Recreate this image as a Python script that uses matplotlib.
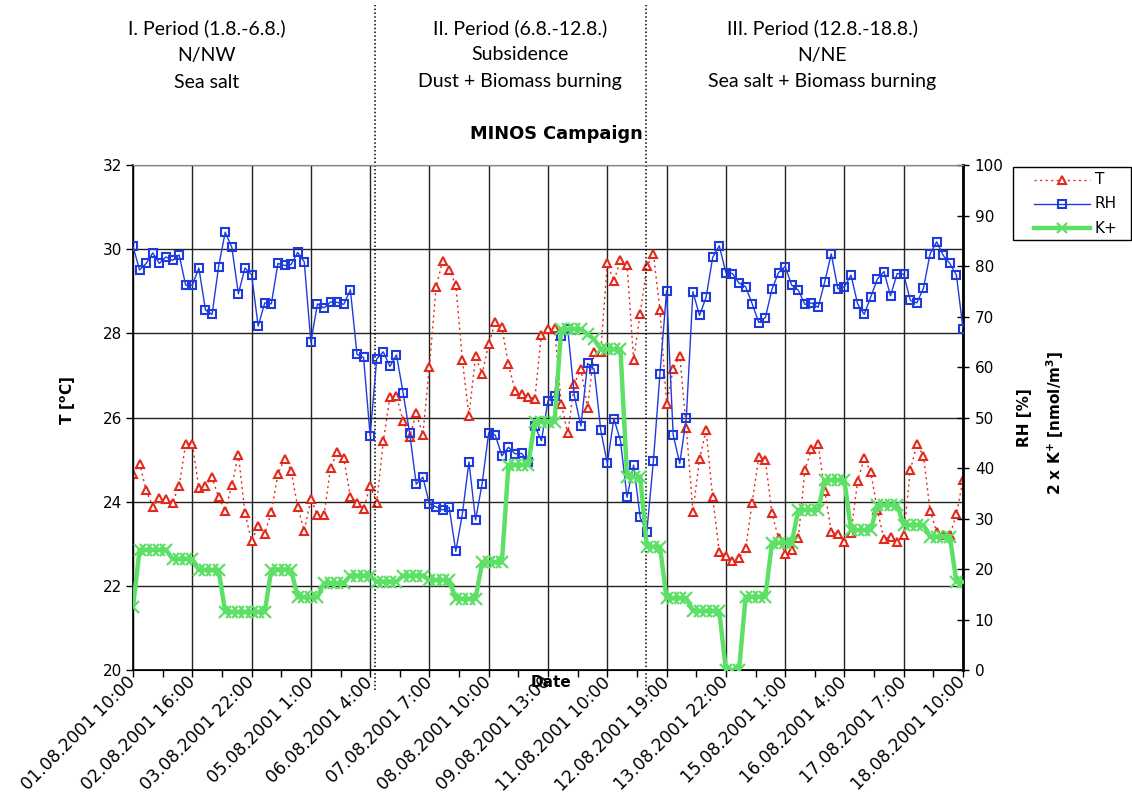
import matplotlib
matplotlib.use('Agg')
import matplotlib.pyplot as plt
import matplotlib.transforms as mtransforms
from matplotlib.lines import Line2D
from matplotlib.patches import Rectangle
import numpy as np

tick_labels = ["01.08.2001 10:00", "02.08.2001 16:00", "03.08.2001 22:00", "05.08.2001 1:00",
               "06.08.2001 4:00", "07.08.2001 7:00", "08.08.2001 10:00", "09.08.2001 13:00",
               "11.08.2001 10:00", "12.08.2001 19:00", "13.08.2001 22:00", "15.08.2001 1:00",
               "16.08.2001 4:00", "17.08.2001 7:00", "18.08.2001 10:00"]

T = [24.66, 24.90, 24.27, 23.88, 24.08, 24.06, 23.98, 24.37, 25.38, 25.38,
     24.32, 24.37, 24.58, 24.10, 23.78, 24.39, 25.12, 23.72, 23.07, 23.41,
     23.24, 23.75, 24.66, 25.01, 24.74, 23.87, 23.31, 24.07, 23.68, 23.68,
     24.81, 25.17, 25.03, 24.12, 23.98, 23.82, 24.38, 23.98, 25.43, 26.49,
     26.51, 25.92, 25.54, 26.10, 25.59, 27.20, 29.09, 29.72, 29.50, 29.16,
     27.36, 26.04, 27.45, 27.03, 27.75, 28.26, 28.14, 27.26, 26.64, 26.57,
     26.49, 26.45, 27.97, 28.10, 28.13, 26.33, 25.62, 26.80, 27.15, 26.23,
     27.55, 27.56, 29.66, 29.24, 29.74, 29.62, 27.37, 28.47, 29.59, 29.89,
     28.55, 26.31, 27.15, 27.47, 25.74, 23.76, 25.01, 25.70, 24.10, 22.81,
     22.72, 22.59, 22.67, 22.89, 23.98, 25.07, 24.98, 23.72, 23.13, 22.76,
     22.84, 23.14, 24.76, 25.24, 25.37, 24.26, 23.28, 23.22, 23.03, 23.25,
     24.49, 25.03, 24.70, 23.80, 23.11, 23.17, 23.03, 23.21, 24.75, 25.36,
     25.09, 23.79, 23.29, 23.20, 23.20, 23.70, 24.52]

RH = [83.9, 79.2, 80.5, 82.6, 80.5, 81.8, 81.1, 82.2, 76.2, 76.2,
      79.6, 71.3, 70.4, 79.9, 86.7, 83.7, 74.5, 79.6, 78.3, 68.1,
      72.7, 72.5, 80.5, 80.1, 80.3, 82.7, 80.8, 64.9, 72.5, 71.7,
      72.9, 72.8, 72.4, 75.3, 62.5, 61.9, 46.4, 61.6, 63.0, 60.1,
      62.4, 54.9, 46.9, 36.8, 38.2, 32.9, 32.3, 31.7, 32.2, 23.5,
      30.9, 41.2, 29.7, 36.9, 47.0, 46.5, 42.4, 44.1, 42.8, 42.9,
      41.2, 48.3, 45.4, 53.3, 54.3, 66.2, 67.5, 54.3, 48.3, 60.7,
      59.6, 47.6, 40.9, 49.8, 45.4, 34.2, 40.6, 30.2, 27.3, 41.4,
      58.7, 75.1, 46.6, 40.9, 50.0, 74.9, 70.2, 73.8, 81.7, 84.0,
      78.7, 78.5, 76.6, 75.9, 72.5, 68.8, 69.8, 75.4, 78.7, 79.9,
      76.2, 75.2, 72.4, 72.7, 71.8, 76.8, 82.4, 75.5, 75.9, 78.2,
      72.5, 70.4, 73.9, 77.4, 78.9, 74.1, 78.5, 78.4, 73.2, 72.7,
      75.6, 82.4, 84.8, 82.1, 80.5, 78.2, 67.6]

K = [12.5, 23.8, 23.8, 23.8, 23.8, 23.8, 22.0, 22.0, 22.0, 22.0,
     19.8, 19.8, 19.8, 19.8, 11.5, 11.5, 11.5, 11.5, 11.5, 11.5,
     11.5, 19.9, 19.9, 19.9, 19.9, 14.4, 14.4, 14.4, 14.4, 17.2,
     17.2, 17.2, 17.2, 18.7, 18.7, 18.7, 18.7, 17.5, 17.5, 17.5,
     17.5, 18.7, 18.7, 18.7, 18.7, 17.8, 17.8, 17.8, 17.8, 14.1,
     14.1, 14.1, 14.1, 21.3, 21.3, 21.3, 21.3, 40.6, 40.6, 40.6,
     40.6, 49.2, 49.2, 49.2, 49.2, 67.5, 67.5, 67.5, 67.5, 66.5,
     65.5, 63.5, 63.5, 63.5, 63.5, 38.3, 38.3, 38.3, 24.4, 24.4,
     24.4, 14.2, 14.2, 14.2, 14.2, 11.7, 11.7, 11.7, 11.7, 11.7,
     0.0, 0.0, 0.0, 14.5, 14.5, 14.5, 14.5, 25.2, 25.2, 25.2,
     25.2, 31.7, 31.7, 31.7, 31.7, 37.6, 37.6, 37.6, 37.6, 27.7,
     27.7, 27.7, 27.7, 32.7, 32.7, 32.7, 32.7, 28.7, 28.7, 28.7,
     28.7, 26.4, 26.4, 26.4, 26.4, 17.5, 17.5]

series_names = ['T', 'RH', 'K+']

period_titles = [["I. Period (1.8.-6.8.)", "N/NW", "Sea salt"],
                 ["II. Period (6.8.-12.8.)", "Subsidence", "Dust + Biomass burning"],
                 ["III. Period (12.8.-18.8.)", "N/NE", "Sea salt + Biomass burning"]]

RED = '#E2291B'
BLUE = '#1E3CDC'
GREEN = '#5CE066'

W, H = 1132, 805
fig = plt.figure(figsize=(W / 100, H / 100), dpi=100)
plt.rcParams['font.family'] = ['DejaVu Sans']
ax = fig.add_axes([133 / W, 1 - 670 / H, 830 / W, 505 / H])
ax2 = ax.twinx()

x = np.arange(len(T))

styleT = dict(color=RED, lw=1.0, ls=(0, (1.5, 2.5)), marker='^', ms=6,
              mfc='white', mec=RED, mew=1.5)
styleRH = dict(color=BLUE, lw=1.0, marker='s', ms=6, mfc='none', mec=BLUE, mew=1.5)
styleK = dict(color=GREEN, lw=3.2, marker='x', ms=8, mew=1.6, mec=GREEN)

ax.plot(x, T, zorder=3, **styleT)
ax2.plot(x, RH, zorder=3, **styleRH)
ax2.plot(x, K, zorder=4, **styleK)

ax.set_xlim(0, len(T) - 1)
ax.set_ylim(20, 32)
ax2.set_ylim(0, 100)
ax.set_yticks(np.arange(20, 33, 2))
ax2.set_yticks(np.arange(0, 101, 10))

major = np.arange(0, len(T), 9)
ax.set_xticks(major)
ax.set_xticks(np.arange(4.5, len(T) - 1, 9), minor=True)
ax.set_xticklabels(tick_labels, rotation=45, ha='right', va='center',
                   rotation_mode='anchor', fontsize=12.3)
offset = mtransforms.ScaledTranslation(-1 / 72, -14 / 72, fig.dpi_scale_trans)
for lab in ax.get_xticklabels():
    lab.set_transform(lab.get_transform() + offset)

ax.grid(True, which='major', axis='both', color='#222222', lw=1.0)
ax.set_axisbelow(True)
ax.tick_params(axis='x', which='both', direction='out', length=5, width=1, pad=2)
ax.tick_params(axis='y', direction='out', length=5, width=1, labelsize=11, pad=3)
ax2.tick_params(axis='y', direction='inout', length=9, width=1, labelsize=11, pad=4)

for s in ['left', 'bottom']:
    ax.spines[s].set_linewidth(1.2)
ax2.spines['right'].set_linewidth(2)
ax.spines['top'].set_color('#888888')
ax2.spines['top'].set_color('#888888')
ax.spines['right'].set_visible(False)

# period separators
blend = mtransforms.blended_transform_factory(ax.transData, ax.transAxes)
for xs in [36.7, 77.95]:
    ax.plot([xs, xs], [-0.04, 1.317], transform=blend, color='black', lw=1.1,
            ls=(0, (1, 1.5)), clip_on=False, zorder=5)

# headers
for cx, lines in zip([207, 520, 822], period_titles):
    for j, t in enumerate(lines):
        fig.text(cx / W, 1 - (28 + 27 * j) / H, t, ha='center', va='center',
                 fontsize=14, family='Lato')

fig.text(556 / W, 1 - 134 / H, 'MINOS Campaign', ha='center', va='center',
         fontsize=12.8, fontweight='bold')
fig.text(551 / W, 1 - 682 / H, 'Date', ha='center', va='center',
         fontsize=11, fontweight='bold')
fig.text(68 / W, 1 - 400 / H, r'T [$^\mathbf{o}$C]', ha='center', va='center',
         rotation=90, fontsize=11, fontweight='bold')
fig.text(1025 / W, 1 - 418 / H, 'RH [%]', ha='center', va='center',
         rotation=90, fontsize=11, fontweight='bold')
fig.text(1055 / W, 1 - 423 / H, r'2 x K$^\mathbf{+}$ [nmol/m$^\mathbf{3}$]',
         ha='center', va='center', rotation=90, fontsize=11, fontweight='bold')

# legend box (figure coordinates)
fig.patches.append(Rectangle((1013 / W, 1 - 240 / H), 118 / W, 73 / H,
                             transform=fig.transFigure, facecolor='white',
                             edgecolor='black', lw=1.0, zorder=1))
for j, (name, st) in enumerate(zip(series_names, [styleT, styleRH, styleK])):
    yy = 1 - (180 + 24 * j) / H
    st2 = dict(st)
    st2['ms'] = st['ms'] * 0.85
    fig.lines.append(Line2D([1034 / W, 1090 / W], [yy, yy], transform=fig.transFigure,
                            markevery=[], **st2))
    fig.lines.append(Line2D([1062 / W], [yy], transform=fig.transFigure,
                            **{**st2, 'ls': 'none'}))
    fig.text(1095 / W, yy, name, ha='left', va='center', fontsize=11)

fig.savefig('out.png', dpi=100)
